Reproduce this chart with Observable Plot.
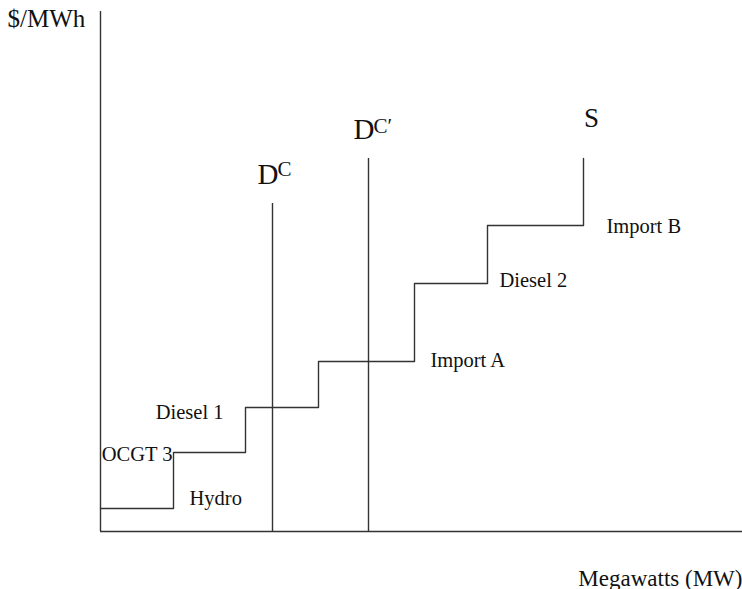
<!DOCTYPE html>
<html>
<head>
<meta charset="utf-8">
<script src="https://cdn.jsdelivr.net/npm/d3@7"></script>
<script src="https://cdn.jsdelivr.net/npm/@observablehq/plot@0.6"></script>
<style>
  html, body { margin: 0; padding: 0; background: #fff; }
</style>
</head>
<body>
<div id="chart"></div>
<script>
// Supply stack (schematic units)
const sources   = ["Hydro", "OCGT 3", "Diesel 1", "Import A", "Diesel 2", "Import B"];
const capStart  = [0, 73, 145, 218, 314, 387];
const capEnd    = [73, 145, 218, 314, 387, 483];
const price     = [23, 79, 124, 170, 248, 306];
const supplyTop = 373;

// Demand curves
const demandNames = ["D", "D"];
const demandSups  = ["C", "C′"];
const demandMW    = [172, 268];
const demandTop   = [328, 373];

const xMax = 642, yMax = 520;
const font = "Liberation Serif, Times New Roman, serif";
const ink = "#333";

// supply step points
const supplyPts = sources.map((s, i) => ({x: capStart[i], y: price[i]}));
supplyPts.push({x: capEnd[capEnd.length - 1], y: supplyTop});

// label placement (pixel offsets from the step anchor)
const labelPlace = [
  {at: "end",   anchor: "start", dx: 16,  dy: -4},
  {at: "start", anchor: "end",   dx: -1,  dy: 8},
  {at: "start", anchor: "end",   dx: -22, dy: 11},
  {at: "end",   anchor: "start", dx: 16,  dy: 5},
  {at: "end",   anchor: "start", dx: 12,  dy: 3},
  {at: "end",   anchor: "start", dx: 23,  dy: 7}
];

const labelMarks = sources.map((s, i) => {
  const p = labelPlace[i];
  return Plot.text([s], {
    x: p.at === "end" ? capEnd[i] : capStart[i],
    y: price[i],
    text: d => d,
    textAnchor: p.anchor,
    lineAnchor: "bottom",
    dx: p.dx, dy: p.dy,
    fontSize: 20.5, fontFamily: font, fill: "#111"
  });
});

const demandMarks = demandMW.flatMap((mw, i) => [
  Plot.ruleX([mw], {y1: 0, y2: demandTop[i], stroke: ink, strokeWidth: 1.4}),
  Plot.text([demandNames[i]], {x: mw, y: demandTop[i], text: d => d, textAnchor: "start",
    lineAnchor: "bottom", dx: -15, dy: -20, fontSize: 29, fontFamily: font, fill: "#111"}),
  Plot.text([demandSups[i]], {x: mw, y: demandTop[i], text: d => d, textAnchor: "start",
    lineAnchor: "bottom", dx: 5, dy: i === 0 ? -28 : -26, fontSize: 21, fontFamily: font, fill: "#111"})
]);

const chart = Plot.plot({
  width: 742,
  height: 589,
  marginLeft: 100,
  marginRight: 0,
  marginTop: 11,
  marginBottom: 58,
  x: {domain: [0, xMax], axis: null},
  y: {domain: [0, yMax], axis: null},
  style: {background: "#fff", fontFamily: font},
  marks: [
    Plot.ruleX([0], {y1: 0, y2: yMax, stroke: ink, strokeWidth: 1.4}),
    Plot.ruleY([0], {x1: 0, x2: xMax, stroke: ink, strokeWidth: 1.4}),
    Plot.line(supplyPts, {x: "x", y: "y", curve: "step-after", stroke: ink, strokeWidth: 1.4}),
    ...demandMarks,
    Plot.text(["S"], {x: capEnd[capEnd.length - 1], y: supplyTop, text: d => d, textAnchor: "middle",
      lineAnchor: "bottom", dx: 8, dy: -32, fontSize: 27, fontFamily: font, fill: "#111"}),
    ...labelMarks,
    Plot.text(["$/MWh"], {x: 0, y: yMax, text: d => d, textAnchor: "start", lineAnchor: "bottom",
      dx: -93, dy: 15, fontSize: 25, fontFamily: font, fill: "#111"}),
    Plot.text(["Megawatts (MW)"], {x: xMax, y: 0, text: d => d, textAnchor: "end", lineAnchor: "bottom",
      dx: 0, dy: 54, fontSize: 23, fontFamily: font, fill: "#111"})
  ]
});
document.getElementById("chart").appendChild(chart);
</script>
</body>
</html>
